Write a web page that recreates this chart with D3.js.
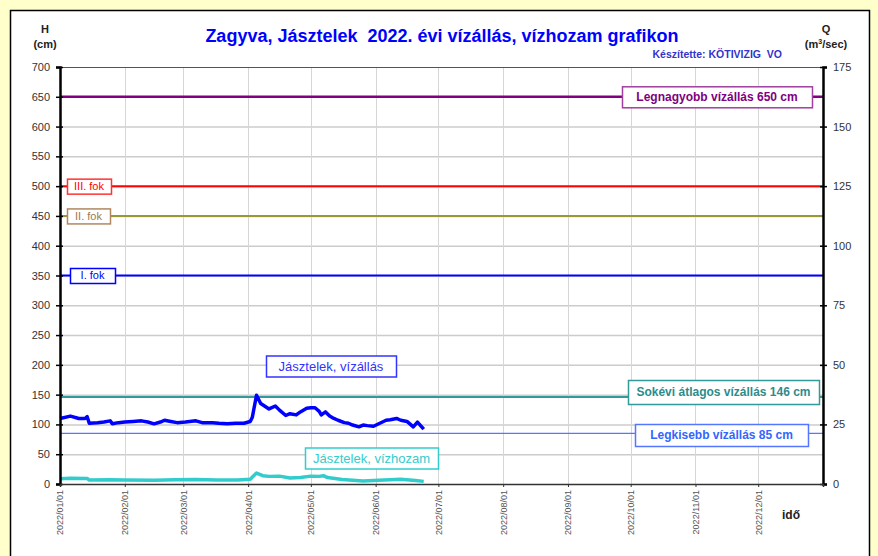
<!DOCTYPE html>
<html>
<head>
<meta charset="utf-8">
<script src="https://cdn.jsdelivr.net/npm/d3@7"></script>
<style>
  body { margin: 0; background: #ffffcc; }
  svg { display: block; font-family: "Liberation Sans", Arial, sans-serif; }
</style>
</head>
<body>
<svg id="chart" width="878" height="556"></svg>
<script>
// vízállás (cm) - Jásztelek
const levelDates = ["2022-01-01","2022-01-06","2022-01-10","2022-01-13","2022-01-14","2022-01-15","2022-01-19","2022-01-22","2022-01-25","2022-01-26","2022-01-29",
  "2022-02-01","2022-02-05","2022-02-09","2022-02-12","2022-02-15","2022-02-18","2022-02-20","2022-02-23","2022-02-26",
  "2022-03-02","2022-03-07","2022-03-10","2022-03-15","2022-03-18","2022-03-22","2022-03-26","2022-03-30",
  "2022-04-02","2022-04-03","2022-04-05","2022-04-07","2022-04-11","2022-04-14","2022-04-16","2022-04-19","2022-04-21","2022-04-24","2022-04-26","2022-04-29",
  "2022-05-01","2022-05-03","2022-05-05","2022-05-06","2022-05-08","2022-05-10","2022-05-12","2022-05-14","2022-05-17","2022-05-19","2022-05-21","2022-05-24","2022-05-26","2022-05-28","2022-05-31",
  "2022-06-03","2022-06-06","2022-06-08","2022-06-11","2022-06-13","2022-06-16","2022-06-19","2022-06-21","2022-06-24"];
const levelValues = [110,114,110,110,113,102,103,104,106,101,103,
  104,105,106,104,101,104,107,105,103,
  104,106,103,103,102,101,102,102,
  105,112,149,135,126,131,124,115,118,116,121,127,
  128,128,122,116,121,114,110,107,103,102,99,96,99,98,97,
  102,107,108,110,107,105,96,104,92];

// vízhozam (m3/sec)
const flowDates = ["2022-01-01","2022-01-06","2022-01-14","2022-01-15","2022-01-25","2022-02-01","2022-02-15","2022-02-25","2022-03-07","2022-03-17","2022-03-27",
  "2022-04-02","2022-04-05","2022-04-08","2022-04-11","2022-04-16","2022-04-21","2022-04-26","2022-05-01","2022-05-05","2022-05-07","2022-05-09","2022-05-16","2022-05-26","2022-06-05","2022-06-13","2022-06-20","2022-06-24"];
const flowValues = [2.2,2.4,2.3,1.7,1.8,1.7,1.6,1.8,1.9,1.7,1.7,
  2.0,4.6,3.5,3.2,3.3,2.5,2.7,3.3,3.2,3.5,2.7,1.9,1.3,1.7,2.0,1.5,1.1];

// jellemző vízszintek
const refNames = ["Legnagyobb vízállás 650 cm","III. fok","II. fok","I. fok","Sokévi átlagos vízállás 146 cm","Legkisebb vízállás 85 cm"];
const refLevels = [650, 500, 450, 350, 146, 85];

const hTicks = d3.range(0, 701, 50);
const qTicks = d3.range(0, 176, 25);

const svg = d3.select("#chart");
const parse = d3.timeParse("%Y-%m-%d");
const plotLeft = 60, plotRight = 823, plotTop = 67, plotBottom = 484;

// panel
svg.append("rect").attr("x", 10.5).attr("y", 10.5).attr("width", 859).attr("height", 560)
  .attr("fill", "#fff").attr("stroke", "#000").attr("stroke-width", 1.5);

const x = d3.scaleTime().domain([parse("2022-01-01"), parse("2023-01-01")]).range([plotLeft, plotRight]);
const yH = d3.scaleLinear().domain([0, 700]).range([plotBottom, plotTop]);
const yQ = d3.scaleLinear().domain([0, 175]).range([plotBottom, plotTop]);

// grid
svg.append("g").selectAll("line").data(hTicks.filter(d => d > 0 && d < 700)).join("line")
  .attr("x1", plotLeft).attr("x2", plotRight).attr("y1", d => yH(d) + 0.5).attr("y2", d => yH(d) + 0.5)
  .attr("stroke", "#cccccc").attr("stroke-width", 1.5);
const months = d3.timeMonth.range(parse("2022-01-01"), parse("2023-01-01"));
svg.append("g").selectAll("line").data(months.slice(1)).join("line")
  .attr("x1", d => Math.round(x(d)) + 0.5).attr("x2", d => Math.round(x(d)) + 0.5).attr("y1", plotTop).attr("y2", plotBottom)
  .attr("stroke", "#d6d6d6").attr("stroke-width", 1);
svg.append("line").attr("x1", plotLeft).attr("x2", plotRight).attr("y1", plotTop + 0.5).attr("y2", plotTop + 0.5)
  .attr("stroke", "#555").attr("stroke-width", 1);

// reference lines
const refColors = ["#800080", "#ff0000", "#999933", "#0000ff", "#339999", "#5577ff"];
const refWidths = [2.5, 2, 2, 2, 2, 1.2];
svg.append("g").selectAll("line").data(refLevels).join("line")
  .attr("x1", plotLeft).attr("x2", plotRight).attr("y1", d => yH(d)).attr("y2", d => yH(d))
  .attr("stroke", (d, i) => refColors[i]).attr("stroke-width", (d, i) => refWidths[i]);

// series
const levelLine = d3.line().x((d, i) => x(parse(levelDates[i]))).y(d => yH(d));
const flowLine = d3.line().x((d, i) => x(parse(flowDates[i]))).y(d => yQ(d));
svg.append("path").datum(flowValues).attr("d", flowLine)
  .attr("fill", "none").attr("stroke", "#33cccc").attr("stroke-width", 3.5).attr("stroke-linejoin", "round");
svg.append("path").datum(levelValues).attr("d", levelLine)
  .attr("fill", "none").attr("stroke", "#0000ff").attr("stroke-width", 3.5).attr("stroke-linejoin", "round");

// axes
const axL = svg.append("g").attr("transform", `translate(${plotLeft},0)`)
  .call(d3.axisLeft(yH).tickValues(hTicks).tickSize(4).tickPadding(6));
const axR = svg.append("g").attr("transform", `translate(${plotRight},0)`)
  .call(d3.axisRight(yQ).tickValues(qTicks).tickSize(4).tickPadding(6));
const axB = svg.append("g").attr("transform", `translate(0,${plotBottom})`)
  .call(d3.axisBottom(x).tickValues(months).tickSize(3).tickFormat(d3.timeFormat("%Y/%m/%d")));
[axL, axR].forEach(a => {
  a.select(".domain").attr("stroke", "#000").attr("stroke-width", 2.5);
  a.selectAll(".tick line").attr("stroke", "#000").attr("stroke-width", 1.5);
  a.selectAll(".tick text").attr("font-size", 11).attr("fill", "#333").attr("font-family", "Liberation Sans, Arial");
});
axL.selectAll(".tick line").attr("x2", -4).attr("x1", 3);
axR.selectAll(".tick line").attr("x1", -3).attr("x2", 4);
axB.select(".domain").attr("stroke", "#333").attr("stroke-width", 1.5);
axB.selectAll(".tick line").attr("stroke", "#333");
axB.selectAll(".tick text")
  .attr("transform", "rotate(-90)").attr("text-anchor", "end")
  .attr("x", -6).attr("y", 0).attr("dy", "0.32em")
  .attr("font-size", 9).attr("fill", "#555").attr("font-family", "Liberation Sans, Arial");

// titles
svg.append("text").attr("x", 442).attr("y", 42).attr("text-anchor", "middle")
  .attr("font-size", 18).attr("font-weight", "bold").attr("fill", "#0000ff")
  .attr("xml:space", "preserve")
  .text("Zagyva, Jásztelek  2022. évi vízállás, vízhozam grafikon");
svg.append("text").attr("x", 782).attr("y", 58).attr("text-anchor", "end")
  .attr("font-size", 10.5).attr("font-weight", "bold").attr("fill", "#3333cc")
  .attr("xml:space", "preserve")
  .text("Készítette: KÖTIVIZIG  VO");
const unit = (cx, lines) => lines.forEach((t, i) => svg.append("text").attr("x", cx).attr("y", 33 + i * 15)
  .attr("text-anchor", "middle").attr("font-size", 11).attr("font-weight", "bold").attr("fill", "#222").text(t));
unit(45, ["H", "(cm)"]);
svg.append("text").attr("x", 826).attr("y", 33).attr("text-anchor", "middle")
  .attr("font-size", 11).attr("font-weight", "bold").attr("fill", "#222").text("Q");
svg.append("text").attr("x", 826).attr("y", 48).attr("text-anchor", "middle")
  .attr("font-size", 11).attr("font-weight", "bold").attr("fill", "#222")
  .html('(m<tspan dy="-4" font-size="7">3</tspan><tspan dy="4">/sec)</tspan>');
svg.append("text").attr("x", 791).attr("y", 519).attr("text-anchor", "middle")
  .attr("font-size", 12).attr("font-weight", "bold").attr("fill", "#222").text("idő");

// label boxes
function label(text, x0, x1, cy, h, color, border, size, bold) {
  svg.append("rect").attr("x", x0 + 0.5).attr("y", cy - h / 2 + 0.5).attr("width", x1 - x0).attr("height", h)
    .attr("fill", "#fff").attr("stroke", border).attr("stroke-width", 1.5);
  svg.append("text").attr("x", (x0 + x1) / 2).attr("y", cy).attr("dy", "0.35em").attr("text-anchor", "middle")
    .attr("font-size", size).attr("font-weight", bold ? "bold" : "normal").attr("fill", color).text(text);
}
label(refNames[0], 622, 812, yH(refLevels[0]), 21, "#800080", "#a040a0", 12, true);
label(refNames[1], 67, 111, yH(refLevels[1]), 15, "#ff0000", "#ff3333", 11, false);
label(refNames[2], 67, 110, yH(refLevels[2]), 15, "#a07850", "#b08860", 11, false);
label(refNames[3], 70, 115, yH(refLevels[3]), 15, "#0000ff", "#0000ff", 11, false);
label(refNames[4], 628, 819, 392, 24, "#2e8b8b", "#339999", 12, true);
label(refNames[5], 635, 808, 435, 22, "#3366ff", "#5577ff", 12, true);
label("Jásztelek, vízállás", 266, 396, 366, 21, "#3333ff", "#3333ff", 13, false);
label("Jásztelek, vízhozam", 305, 438, 458, 21, "#33cccc", "#33cccc", 13, false);
</script>
</body>
</html>
